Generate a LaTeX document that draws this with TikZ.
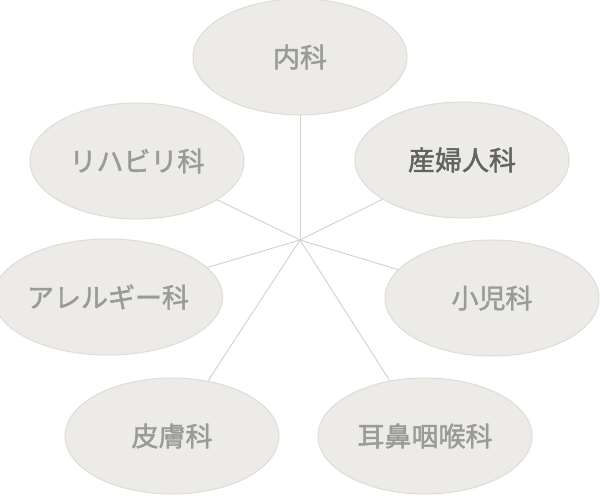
\documentclass[tikz,border=0pt]{standalone}
\usepackage{fontspec}
\newfontfamily\cjk[FakeBold=1.6]{Noto Sans CJK JP}
\usetikzlibrary{shapes.geometric}
\definecolor{paper}{HTML}{ECEBE7}
\definecolor{paperedge}{HTML}{DDDCD7}
\definecolor{spoke}{HTML}{D2D1CC}
\definecolor{txtgray}{HTML}{9A9A9A}
\definecolor{txtdark}{HTML}{626262}
\tikzset{
  dept/.style={ellipse, fill=paper, draw=paperedge, line width=1pt,
    minimum width=214pt, minimum height=116pt, inner sep=0pt,
    font=\cjk\fontsize{27}{30}\selectfont, text=txtgray},
  deptdark/.style={dept, text=txtdark},
  spokeline/.style={draw=spoke, line width=0.9pt}
}
\begin{document}
\begin{tikzpicture}[x=1pt,y=-1pt]
\useasboundingbox[fill=white] (0,0) rectangle (600,500);
\coordinate (hub) at (300,240);
\node[dept] (naika) at (300,57) {内科};
\node[deptdark] (sanfu) at (462,160) {産婦人科};
\node[dept] (riha) at (137,161) {リハビリ科};
\node[dept] (allergy) at (108,297) {アレルギー科};
\node[dept] (shoni) at (492,298) {小児科};
\node[dept] (hifu) at (172,436) {皮膚科};
\node[dept] (jibi) at (425,436) {耳鼻咽喉科};
\foreach \n in {naika,sanfu,riha,allergy,shoni,hifu,jibi}
  \draw[spokeline] (hub) -- (\n);
\end{tikzpicture}
\end{document}
